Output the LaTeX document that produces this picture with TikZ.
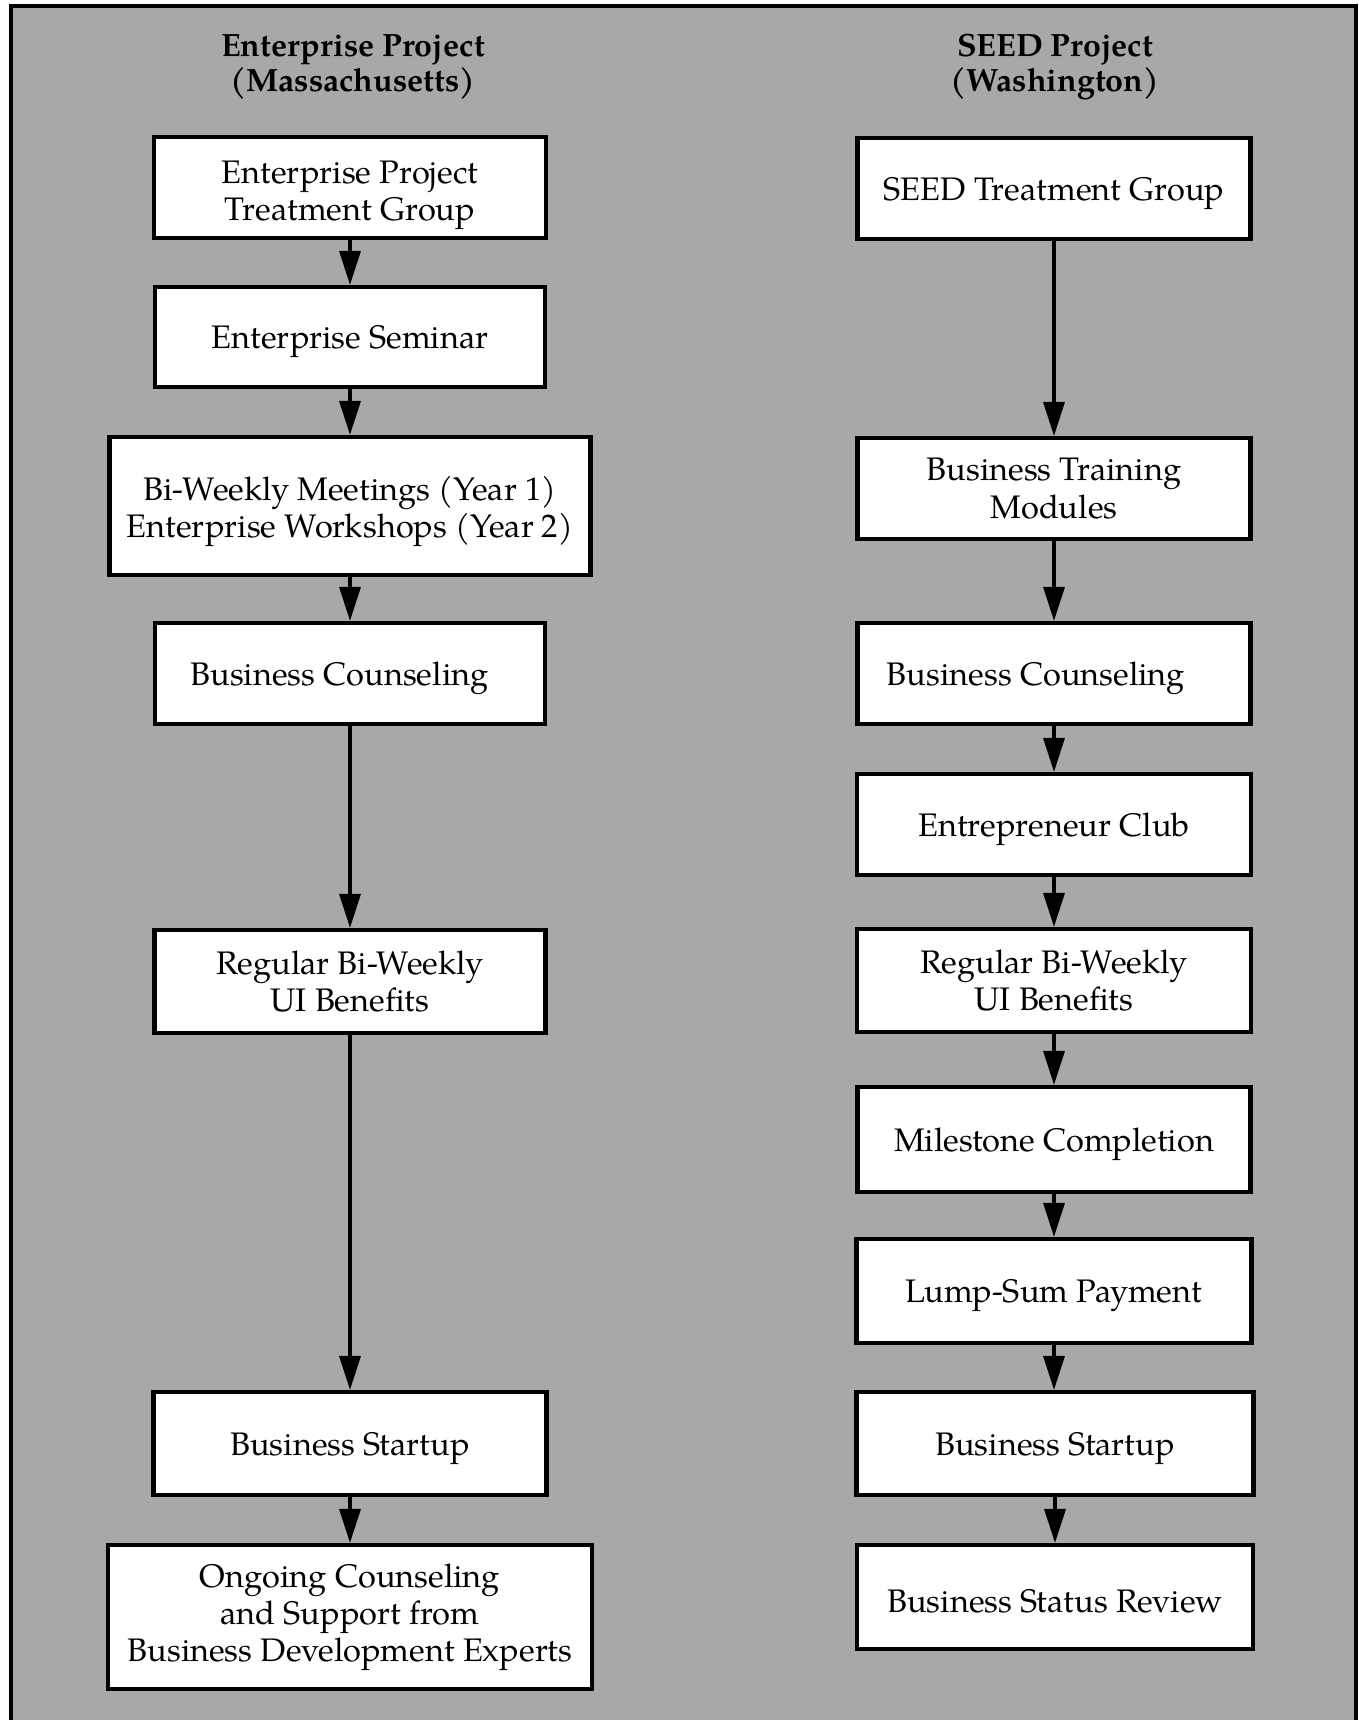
\documentclass[tikz,border=0pt]{standalone}
\usepackage{fontspec}
\setmainfont{texgyrepagella}[Extension=.otf, UprightFont=*-regular, BoldFont=*-bold, ItalicFont=*-italic, BoldItalicFont=*-bolditalic]
\usetikzlibrary{arrows.meta}
\definecolor{bg}{RGB}{168,168,168}
\begin{document}
\begin{tikzpicture}[x=0.5pt,y=-0.5pt,
  bx/.style={draw=black, fill=white, line width=2.1pt, align=center, inner sep=0pt,
    font=\fontsize{16.3}{18.6}\selectfont, execute at begin node={\rule{0pt}{16.2pt}}},
  hd/.style={align=center, font=\fontsize{16.1}{17.5}\selectfont\bfseries},
  arr/.style={line width=1.75pt, -{Triangle[length=17pt,width=10.5pt]}}]
\fill[white] (0,0) rectangle (1359,1720);
\clip (0,0) rectangle (1359,1720);
\draw[line width=2pt, fill=bg] (11,6) rectangle (1356,1745);
% headers
\node[hd] (hL) at (353,67.5) {Enterprise Project\\(Massachusetts)};
\node[hd] (hR) at (1055,67.5) {SEED Project\\(Washington)};
% left column
\node[bx, minimum width=196pt, minimum height=50.5pt] (L1) at (350,187.5) {\rule{0pt}{18.7pt}Enterprise Project\\Treatment Group};
\node[bx, minimum width=195pt, minimum height=50pt] (L2) at (350,337) {Enterprise Seminar};
\node[bx, minimum width=240.5pt, minimum height=69pt] (L3) at (350,506) {\rule{0pt}{17.3pt}Bi-Weekly Meetings (Year 1)\\Enterprise Workshops (Year 2)};
\node[bx, minimum width=195pt, minimum height=50.5pt] (L4) at (350,673.5) {Business Counseling\hspace*{10.5pt}};
\node[bx, minimum width=195.5pt, minimum height=51.5pt] (L5) at (350,981.5) {Regular Bi-Weekly\\UI Benefits};
\node[bx, minimum width=196.5pt, minimum height=51.5pt] (L6) at (350,1443.5) {Business Startup};
\node[bx, minimum width=242pt, minimum height=72pt] (L7) at (350,1617) {Ongoing Counseling\\and Support from\\Business Development Experts};
% right column
\node[bx, minimum width=196.5pt, minimum height=50.5pt] (R1) at (1054,188.5) {SEED Treatment Group};
\node[bx, minimum width=196.5pt, minimum height=50.5pt] (R2) at (1054,488.5) {Business Training\\Modules};
\node[bx, minimum width=196.5pt, minimum height=50.5pt] (R3) at (1054,673.5) {Business Counseling\hspace*{18pt}};
\node[bx, minimum width=197pt, minimum height=50.5pt] (R4) at (1054,824.5) {Entrepreneur Club};
\node[bx, minimum width=197pt, minimum height=51.5pt] (R5) at (1054,980.5) {Regular Bi-Weekly\\UI Benefits};
\node[bx, minimum width=196.5pt, minimum height=52.5pt] (R6) at (1054,1139.5) {Milestone Completion};
\node[bx, minimum width=197.5pt, minimum height=52pt] (R7) at (1054,1291) {Lump-Sum Payment};
\node[bx, minimum width=198.5pt, minimum height=51.5pt] (R8) at (1055,1443.5) {Business Startup};
\node[bx, minimum width=198pt, minimum height=52pt] (R9) at (1055,1597) {Business Status Review};
% arrows
\foreach \a/\b in {L1/L2,L2/L3,L3/L4,L4/L5,L5/L6,L6/L7,R1/R2,R2/R3,R3/R4,R4/R5,R5/R6,R6/R7,R7/R8,R8/R9}
  \draw[arr] (\a.south) -- (\a.south |- \b.north);
\end{tikzpicture}
\end{document}
